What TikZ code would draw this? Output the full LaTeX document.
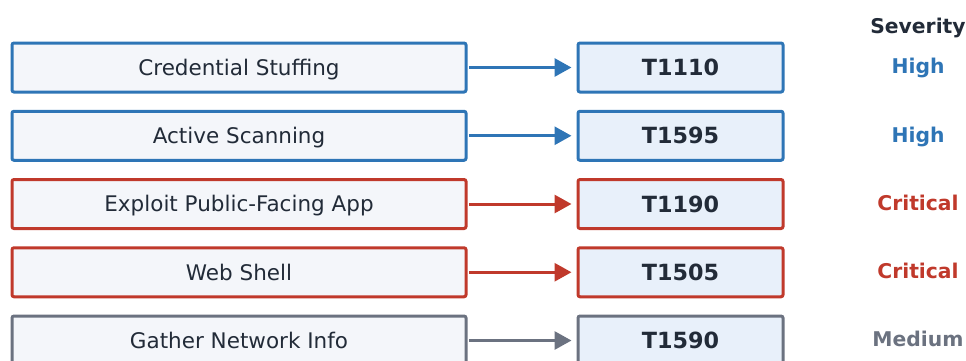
\documentclass[tikz,border=0pt]{standalone}
\usepackage{fontspec}
\setmainfont{DejaVu Sans}
\usetikzlibrary{arrows.meta}
\definecolor{cblue}{HTML}{2E75B6}
\definecolor{cred}{HTML}{C0392B}
\definecolor{cgray}{HTML}{6B7280}
\definecolor{ctext}{HTML}{222B38}
\definecolor{lfill}{HTML}{F4F6FA}
\definecolor{rfill}{HTML}{E8F0FA}
\tikzset{
  techbox/.style={draw=#1, line width=3pt, rounded corners=2pt, fill=lfill, minimum width=454pt, minimum height=49pt, inner sep=0pt, text=ctext, font=\fontsize{21.5}{25}\selectfont, text height=15.7pt, text depth=0pt},
  idbox/.style={draw=#1, line width=3pt, rounded corners=2pt, fill=rfill, minimum width=205pt, minimum height=49pt, inner sep=0pt, text=ctext, font=\fontsize{22.3}{26}\selectfont\bfseries, text height=16.3pt, text depth=0pt},
  sevtext/.style={text=#1, font=\fontsize{20.3}{24}\selectfont\bfseries, inner sep=0pt, text height=14.8pt, text depth=0pt},
  maparrow/.style={draw=#1, line width=3pt, shorten <=1.5pt, shorten >=5pt, -{Triangle[length=17pt,width=18pt]}}
}
\begin{document}
\begin{tikzpicture}[x=1pt,y=-1pt]
\useasboundingbox (0,0) rectangle (966,360);
\node[sevtext=ctext] (hdr) at (918,26.5) {Severity};
\foreach \i/\lab/\id/\sev/\col in {0/Credential Stuffing/T1110/High/cblue, 1/Active Scanning/T1595/High/cblue, 2/Exploit Public-Facing App/T1190/Critical/cred, 3/Web Shell/T1505/Critical/cred, 4/Gather Network Info/T1590/Medium/cgray}{
  \pgfmathsetmacro{\yy}{67.5+68.25*\i}
  \node[techbox=\col] (t\i) at (239,\yy) {\lab};
  \node[idbox=\col] (c\i) at (680.5,\yy) {\id};
  \node[sevtext=\col] (s\i) at (918,\yy-1) {\sev};
  \draw[maparrow=\col] (t\i) -- (c\i);
}
\end{tikzpicture}
\end{document}
